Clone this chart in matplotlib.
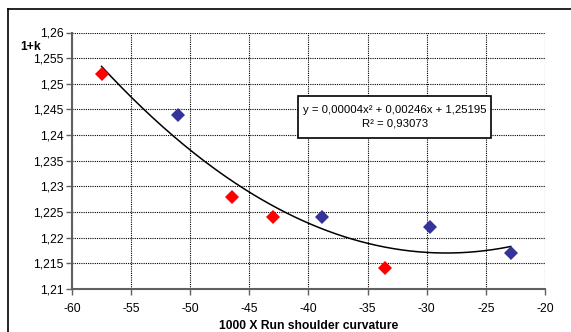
import numpy as np
import matplotlib
matplotlib.use("Agg")
import matplotlib.pyplot as plt
from matplotlib.lines import Line2D
from matplotlib.patches import Rectangle

plt.rcParams['font.family'] = ['Liberation Sans', 'DejaVu Sans']

# data
red_x = [-57.5, -46.5, -43.0, -33.5]
red_y = [1.252, 1.228, 1.224, 1.214]
blue_x = [-51.0, -38.9, -29.7, -22.9]
blue_y = [1.244, 1.224, 1.222, 1.217]

x_ticks = [-60, -55, -50, -45, -40, -35, -30, -25, -20]
y_ticks = [1.21, 1.215, 1.22, 1.225, 1.23, 1.235, 1.24, 1.245, 1.25, 1.255, 1.26]

eq_text = "y = 0,00004x\u00b2 + 0,00246x + 1,25195\nR\u00b2 = 0,93073"

W, H = 571, 332
fig = plt.figure(figsize=(W / 100, H / 100), dpi=100)
fig.patch.set_facecolor("white")

# plot area in pixels
left, right, top, bottom = 72, 545, 32.5, 289
ax = fig.add_axes([left / W, 1 - bottom / H, (right - left) / W, (bottom - top) / H])

# outer chart frame (cut off on the right and bottom)
fig.add_artist(Line2D([8 / W, 1], [1 - 9 / H, 1 - 9 / H], color="black", lw=1.2))
fig.add_artist(Line2D([8 / W, 8 / W], [0, 1 - 9 / H], color="black", lw=1.2))

# polynomial trendline through all points
all_x = np.array(red_x + blue_x)
all_y = np.array(red_y + blue_y)
coef = np.polyfit(all_x, all_y, 2)
xs = np.linspace(all_x.min(), all_x.max(), 200)
ax.plot(xs, np.polyval(coef, xs), color="black", lw=1.1, zorder=3)

ax.plot(red_x, red_y, "D", color="#ff0000", markersize=7.5, markeredgewidth=0, zorder=4)
ax.plot(blue_x, blue_y, "D", color="#333399", markersize=7.5, markeredgewidth=0, zorder=4)

ax.set_xlim(-60, -20)
ax.set_ylim(1.21, 1.26)
ax.set_xticks(x_ticks)
ax.set_yticks(y_ticks)
ax.set_xticklabels([str(v) for v in x_ticks])
ax.set_yticklabels([("%g" % v).replace(".", ",") for v in y_ticks])
ax.tick_params(labelsize=8.7, length=4, width=1, color="#606060")
ax.tick_params(axis="x", pad=6)
ax.tick_params(axis="y", pad=2)

ax.grid(True, color="black", linestyle=(0, (1, 1)), lw=0.8)
ax.set_axisbelow(True)
for s in ["top", "right"]:
    ax.spines[s].set_visible(False)
for s in ["left", "bottom"]:
    ax.spines[s].set_color("#606060")
    ax.spines[s].set_linewidth(1.5)

# trendline label box
ax.add_patch(Rectangle((0.478, 0.589), 0.408, 0.164, transform=ax.transAxes,
                       facecolor="white", edgecolor="black", lw=1.2, zorder=5))
ax.text(0.682, 0.671, eq_text, transform=ax.transAxes, fontsize=8.2,
        ha="center", va="center", multialignment="center", linespacing=1.45, zorder=6)

fig.text(31 / W, 1 - 47 / H, "1+k", fontsize=8.7, fontweight="bold", ha="center", va="center")
fig.text((left + right) / 2 / W, 1 - 326 / H, "1000 X Run shoulder curvature",
         fontsize=8.7, fontweight="bold", ha="center", va="center")

fig.savefig("out.png", dpi=100)
